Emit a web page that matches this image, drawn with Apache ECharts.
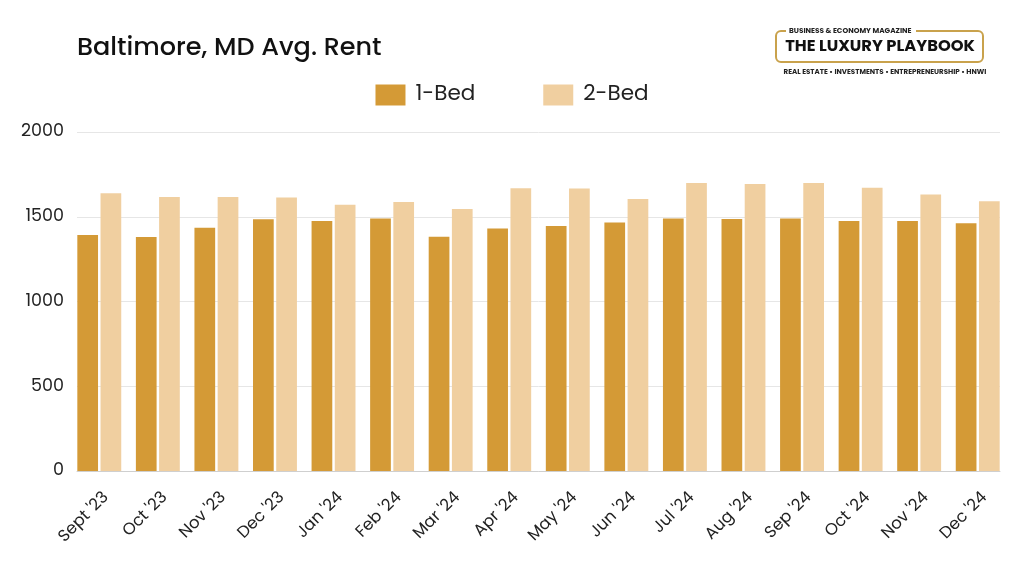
<!DOCTYPE html>
<html><head><meta charset="utf-8">
<script src="https://cdn.jsdelivr.net/npm/echarts@6/dist/echarts.min.js"></script>
<style>html,body{margin:0;padding:0;background:#fff}#c{width:1024px;height:576px}</style>
</head><body><div id="c"></div>
<script>
const categories = ["Sept '23","Oct '23","Nov '23","Dec '23","Jan '24","Feb '24","Mar '24","Apr '24","May '24","Jun '24","Jul '24","Aug '24","Sep '24","Oct '24","Nov '24","Dec '24"];
const oneBed = [1392,1380,1435,1485,1475,1489,1382,1430,1445,1466,1489,1487,1489,1475,1475,1461];
const twoBed = [1638,1616,1616,1613,1571,1587,1546,1668,1666,1605,1699,1693,1699,1671,1632,1591];
const yTicks = [0,500,1000,1500,2000];
const font = "Poppins, Inter, 'Noto Sans', sans-serif";
const yMin = yTicks[0], yMax = yTicks[yTicks.length-1];
const chart = echarts.init(document.getElementById('c'));
chart.setOption({
  backgroundColor:'#fff',
  animation:false,
  title:{text:'Baltimore, MD Avg. Rent',left:72,top:31,textStyle:{fontFamily:font,fontSize:25.5,fontWeight:500,color:'#111'}},
  legend:{top:79,left:'center',itemWidth:30,itemHeight:21,itemGap:68,icon:'rect',
    textStyle:{fontFamily:font,fontSize:21.5,color:'#222',padding:[0,0,0,5]},data:['1-Bed','2-Bed']},
  grid:[
    {left:77,right:24,top:132,bottom:105},
    {left:70,right:17,top:132,bottom:105},
    {left:77,right:10,top:132,bottom:105}
  ],
  xAxis:[
    {type:'category',gridIndex:0,data:categories,axisLine:{show:true,lineStyle:{color:'#cfcfcf'}},axisTick:{show:false},axisLabel:{show:false}},
    {type:'category',gridIndex:1,data:categories,axisLine:{show:false},axisTick:{show:false},axisLabel:{show:false}},
    {type:'category',gridIndex:2,data:categories,
      axisLine:{show:false},axisTick:{show:false},
      axisLabel:{rotate:45,fontFamily:font,fontSize:16.5,color:'#222',margin:24,interval:0}}
  ],
  yAxis:[
    {type:'value',gridIndex:0,min:yMin,max:yMax,interval:500,
      axisLine:{show:false},axisTick:{show:false},
      axisLabel:{fontFamily:font,fontSize:17.5,color:'#222',margin:13,formatter:v=>String(v)},
      splitLine:{lineStyle:{color:'#e6e6e6'}}},
    {type:'value',gridIndex:1,min:yMin,max:yMax,interval:500,
      axisLine:{show:false},axisTick:{show:false},axisLabel:{show:false},splitLine:{show:false}},
    {type:'value',gridIndex:2,min:yMin,max:yMax,interval:500,
      axisLine:{show:false},axisTick:{show:false},axisLabel:{show:false},splitLine:{show:false}}
  ],
  series:[
    {name:'1-Bed',type:'bar',xAxisIndex:1,yAxisIndex:1,data:oneBed,itemStyle:{color:'#D49A36'},barGap:'12%',barCategoryGap:'25%'},
    {name:'2-Bed',type:'bar',xAxisIndex:1,yAxisIndex:1,data:twoBed,itemStyle:{color:'#F0CFA0'}}
  ],
  graphic:[
    {type:'rect',shape:{x:776,y:31,width:207,height:31,r:5},style:{fill:'#fff',stroke:'#C9A24C',lineWidth:2}},
    {type:'rect',shape:{x:786,y:27,width:130,height:8},style:{fill:'#fff'}},
    {type:'text',style:{x:789,y:31,text:'BUSINESS & ECONOMY MAGAZINE',font:"bold 7.3px "+font,fill:'#222',verticalAlign:'middle'}},
    {type:'text',style:{x:880,y:47,text:'THE LUXURY PLAYBOOK',font:"bold 16.3px "+font,fill:'#111',align:'center',verticalAlign:'middle'}},
    {type:'text',style:{x:885,y:72,text:'REAL ESTATE • INVESTMENTS • ENTREPRENEURSHIP • HNWI',font:"bold 7.1px "+font,fill:'#222',align:'center',verticalAlign:'middle'}}
  ]
});
</script></body></html>
